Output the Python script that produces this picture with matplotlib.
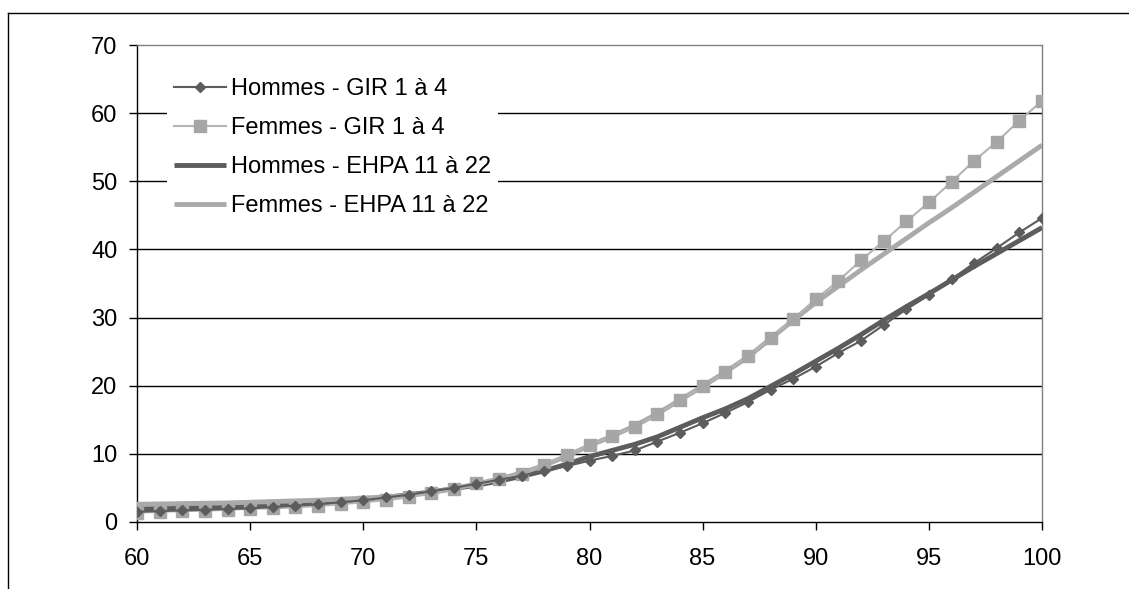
import matplotlib.pyplot as plt
from matplotlib.lines import Line2D
import numpy as np

plt.rcParams['font.family'] = ['Liberation Sans', 'DejaVu Sans']

ages = list(range(60, 101))

hommes_gir = [1.5, 1.6, 1.7, 1.8, 1.9, 2.0, 2.2, 2.4, 2.6, 2.9,
              3.2, 3.6, 4.0, 4.5, 5.0, 5.6, 6.2, 6.8, 7.5, 8.2,
              9.0, 9.7, 10.5, 11.8, 13.1, 14.5, 16.0, 17.6, 19.4, 21.0,
              22.8, 24.8, 26.6, 28.9, 31.2, 33.3, 35.6, 38.0, 40.2, 42.5,
              44.6]
femmes_gir = [1.37, 1.5, 1.6, 1.65, 1.8, 1.95, 2.0, 2.15, 2.35, 2.6,
              2.9, 3.2, 3.6, 4.3, 4.8, 5.7, 6.3, 7.1, 8.4, 9.8,
              11.3, 12.6, 14.0, 15.8, 17.9, 19.9, 22.0, 24.3, 27.0, 29.8,
              32.7, 35.4, 38.4, 41.2, 44.1, 46.9, 49.9, 53.0, 55.8, 58.9,
              61.8]
hommes_ehpa = [1.9, 2.0, 2.1, 2.2, 2.3, 2.4, 2.5, 2.6, 2.8, 3.0,
               3.3, 3.6, 4.0, 4.4, 4.9, 5.4, 6.0, 6.7, 7.5, 8.5,
               9.6, 10.5, 11.4, 12.5, 13.9, 15.3, 16.6, 18.1, 19.9, 21.7,
               23.6, 25.5, 27.5, 29.6, 31.6, 33.5, 35.5, 37.5, 39.4, 41.3,
               43.2]
femmes_ehpa = [2.6, 2.65, 2.7, 2.75, 2.8, 2.9, 3.0, 3.1, 3.2, 3.35,
               3.5, 3.7, 3.9, 4.3, 4.9, 5.6, 6.3, 7.2, 8.3, 9.7,
               11.2, 12.6, 14.1, 15.9, 17.9, 19.9, 22.0, 24.2, 26.9, 29.6,
               32.2, 34.6, 37.0, 39.3, 41.6, 43.9, 46.1, 48.4, 50.7, 53.0,
               55.3]

dark = '#5c5c5c'
light = '#a6a6a6'

fig = plt.figure(figsize=(11.29, 5.89), dpi=100)
ax = fig.add_axes([137 / 1129, 1 - 522 / 589, 905 / 1129, 477 / 589])

# courbes EHPA dessous, GIR par-dessus
l3, = ax.plot(ages, hommes_ehpa, color=dark, lw=3.5, zorder=3,
              solid_capstyle='butt', label='Hommes - EHPA 11 à 22')
l4, = ax.plot(ages, femmes_ehpa, color='#aaaaaa', lw=3.5, zorder=3,
              solid_capstyle='butt', label='Femmes - EHPA 11 à 22')
l1, = ax.plot(ages, hommes_gir, color=dark, lw=1.5, marker='D', ms=5.5,
              mec=dark, mfc=dark, zorder=5, label='Hommes - GIR 1 à 4')
l2, = ax.plot(ages, femmes_gir, color='#b4b4b4', lw=1.5, marker='s', ms=9,
              mec=light, mfc=light, zorder=4, label='Femmes - GIR 1 à 4')

ax.set_xlim(60, 100)
ax.set_ylim(0, 70)
ax.set_xticks(range(60, 101, 5))
ax.set_yticks(range(0, 71, 10))
ax.tick_params(labelsize=17, length=6, width=1, direction='out',
               color='black')
ax.tick_params(axis='x', pad=13)
ax.tick_params(axis='y', pad=8)

for y in range(10, 70, 10):
    ax.axhline(y, color='black', lw=1, zorder=1)

ax.spines['left'].set_color('black')
ax.spines['bottom'].set_color('black')
ax.spines['top'].set_color('#808080')
ax.spines['right'].set_color('#808080')
for s in ax.spines.values():
    s.set_linewidth(1)

leg = ax.legend(handles=[l1, l2, l3, l4], loc='upper left',
                bbox_to_anchor=(0.033, 0.945), fontsize=17, frameon=True,
                fancybox=False, edgecolor='none', facecolor='white',
                framealpha=1, handlelength=2.2, handletextpad=0.2,
                labelspacing=0.72, borderpad=0.3, borderaxespad=0)
leg.set_zorder(10)

# cadre extérieur
fig.add_artist(Line2D([8 / 1129, 8 / 1129], [0, 1 - 13 / 589],
                      color='black', lw=1, transform=fig.transFigure))
fig.add_artist(Line2D([8 / 1129, 1], [1 - 13 / 589, 1 - 13 / 589],
                      color='black', lw=1, transform=fig.transFigure))

fig.savefig('out.png', dpi=100)
